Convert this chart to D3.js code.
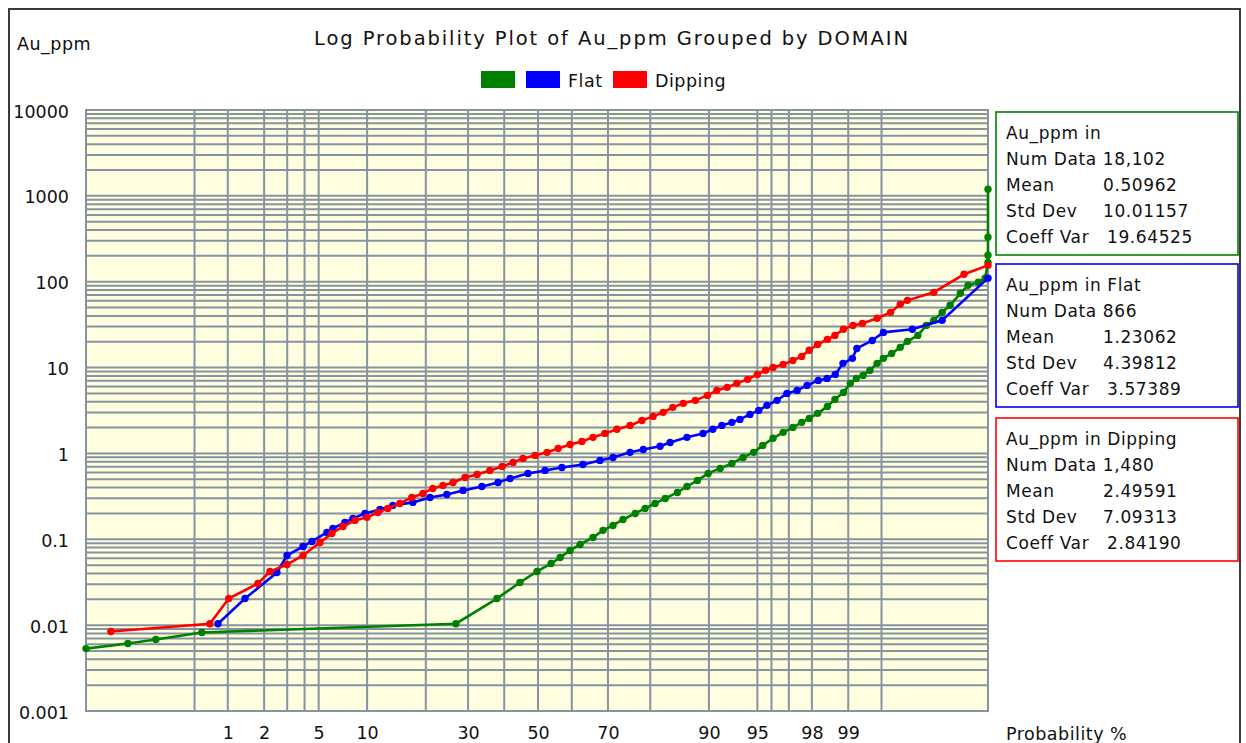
<!DOCTYPE html>
<html>
<head>
<meta charset="utf-8">
<script src="https://cdn.jsdelivr.net/npm/d3@7"></script>
<style>
  body { margin: 0; background: #fff; }
  svg text { font-family: 'DejaVu Sans', sans-serif; fill: #111; }
</style>
</head>
<body>
<svg></svg>
<script>
const CHART_SIZE = { width: 1246, height: 743 };
const PLOT = { left: 86, right: 988, top: 110, bottom: 711 };

const probTicks = [1, 2, 5, 10, 30, 50, 70, 90, 95, 98, 99];
const probGrid = [0.5, 1, 2, 3, 4, 5, 10, 20, 30, 40, 50, 60, 70, 80, 90, 95, 96, 97, 98, 99, 99.5];
const probRange = [0.035, 99.963];
const valueTicks = [0.001, 0.01, 0.1, 1, 10, 100, 1000, 10000];
const valueLabels = ['0.001', '0.01', '0.1', '1', '10', '100', '1000', '10000'];

const seriesNames = ['', 'Flat', 'Dipping'];
const seriesColors = ['#008000', '#0000ff', '#ff0000'];

const allProb = [0.035, 0.105, 0.208, 0.585, 26.9, 37.9, 44.6, 49.7, 53.9, 56.6,
  59.5, 62.4, 66.0, 68.7, 71.3, 73.8, 76.7, 78.9, 81.0, 83.0,
  85.2, 86.8, 88.4, 89.9, 91.4, 92.7, 93.8, 94.7, 95.4, 96.1,
  96.7, 97.2, 97.6, 97.9, 98.2, 98.5, 98.7, 98.9, 99.04, 99.15,
  99.26, 99.36, 99.45, 99.52, 99.60, 99.67, 99.72, 99.78, 99.82, 99.85,
  99.878, 99.90, 99.923, 99.937, 99.952, 99.960, 99.963, 99.963, 99.963, 99.963];
const allValue = [0.00533, 0.0061, 0.0068, 0.0082, 0.0104, 0.0204, 0.0314, 0.0422, 0.0522, 0.0614,
  0.0741, 0.087, 0.105, 0.127, 0.145, 0.170, 0.200, 0.229, 0.261, 0.299,
  0.351, 0.412, 0.485, 0.585, 0.669, 0.765, 0.898, 1.03, 1.24, 1.50,
  1.76, 2.01, 2.30, 2.56, 2.93, 3.53, 4.26, 5.14, 6.55, 7.48,
  8.11, 9.28, 11.2, 12.8, 14.6, 17.2, 20.2, 23.7, 31.0, 35.5,
  44.0, 53.1, 73.3, 90.8, 98.4, 110, 168, 203, 329, 1194];

const flatProb = [0.82, 1.40, 2.51, 2.99, 3.90, 4.50, 5.67, 6.20, 7.38, 8.26,
  9.72, 11.8, 13.8, 17.4, 20.9, 24.7, 28.7, 33.7, 38.2, 41.7,
  47.0, 52.1, 57.1, 63.2, 67.9, 71.3, 75.5, 78.5, 82.0, 83.9,
  86.8, 89.2, 90.5, 91.6, 92.7, 93.5, 94.4, 95.1, 95.7, 96.35,
  96.9, 97.4, 97.82, 98.22, 98.49, 98.71, 98.89, 99.08, 99.16, 99.39,
  99.52, 99.75, 99.878, 99.963];
const flatValue = [0.0104, 0.0204, 0.041, 0.0648, 0.0824, 0.0943, 0.12, 0.134, 0.157, 0.175,
  0.200, 0.223, 0.248, 0.269, 0.307, 0.333, 0.371, 0.412, 0.459, 0.511,
  0.585, 0.634, 0.687, 0.744, 0.829, 0.898, 1.03, 1.11, 1.21, 1.34,
  1.54, 1.71, 1.91, 2.12, 2.30, 2.49, 2.85, 3.17, 3.63, 4.15,
  5.0, 5.42, 6.2, 7.09, 7.48, 8.33, 11.2, 12.8, 16.7, 20.7,
  25.7, 27.9, 35.5, 110];

const dipProb = [0.068, 0.693, 1.02, 1.78, 2.22, 2.99, 3.90, 5.10, 6.11, 7.18,
  8.49, 9.98, 11.5, 13.0, 15.0, 17.2, 19.4, 21.5, 23.8, 26.2,
  29.2, 32.4, 35.9, 39.4, 42.6, 45.5, 49.1, 52.7, 56.0, 59.5,
  62.9, 66.0, 69.2, 72.3, 75.5, 78.2, 80.6, 82.6, 84.4, 86.2,
  88.1, 89.8, 91.0, 92.2, 93.2, 94.2, 95.0, 95.6, 96.1, 96.7,
  97.2, 97.6, 97.9, 98.2, 98.5, 98.7, 98.9, 99.09, 99.25, 99.45,
  99.59, 99.67, 99.72, 99.85, 99.93, 99.963];
const dipValue = [0.00842, 0.0104, 0.0204, 0.0305, 0.0421, 0.0508, 0.0648, 0.0918, 0.117, 0.141,
  0.166, 0.180, 0.205, 0.229, 0.261, 0.307, 0.342, 0.391, 0.424, 0.459,
  0.525, 0.569, 0.634, 0.706, 0.786, 0.875, 0.948, 1.03, 1.14, 1.27,
  1.38, 1.54, 1.71, 1.91, 2.12, 2.42, 2.70, 3.01, 3.44, 3.83,
  4.15, 4.74, 5.42, 5.88, 6.55, 7.29, 8.33, 9.28, 10.05, 10.9,
  12.1, 13.5, 15.9, 18.6, 21.3, 23.7, 27.9, 31.0, 32.7, 37.5,
  44.0, 54.5, 60.7, 75.2, 122, 155];

const statTitles = ['Au_ppm in', 'Au_ppm in Flat', 'Au_ppm in Dipping'];
const statNumData = ['18,102', '866', '1,480'];
const statMean = ['0.50962', '1.23062', '2.49591'];
const statStdDev = ['10.01157', '4.39812', '7.09313'];
const statCoeffVar = ['19.64525', '3.57389', '2.84190'];

// inverse normal cdf (Acklam)
const probit = function(p) {
  const a = [-39.69683028665376, 220.9460984245205, -275.9285104469687, 138.3577518672690, -30.66479806614716, 2.506628277459239];
  const b = [-54.47609879822406, 161.5858368580409, -155.6989798598866, 66.80131188771972, -13.28068155288572];
  const c = [-0.007784894002430293, -0.3223964580411365, -2.400758277161838, -2.549732539343734, 4.374664141464968, 2.938163982698783];
  const d = [0.007784695709041462, 0.3224671290700398, 2.445134137142996, 3.754408661907416];
  const tail = q => (((((c[0] * q + c[1]) * q + c[2]) * q + c[3]) * q + c[4]) * q + c[5]) /
    ((((d[0] * q + d[1]) * q + d[2]) * q + d[3]) * q + 1);
  if (p < 0.02425) return tail(Math.sqrt(-2 * Math.log(p)));
  if (p > 1 - 0.02425) return -tail(Math.sqrt(-2 * Math.log(1 - p)));
  const q = p - 0.5, r = q * q;
  return (((((a[0] * r + a[1]) * r + a[2]) * r + a[3]) * r + a[4]) * r + a[5]) * q /
    (((((b[0] * r + b[1]) * r + b[2]) * r + b[3]) * r + b[4]) * r + 1);
};

const z = d3.scaleLinear()
  .domain(probRange.map(p => probit(p / 100)))
  .range([PLOT.left, PLOT.right]);
const x = p => z(probit(p / 100));
const y = d3.scaleLog().domain([0.001, 10000]).range([PLOT.bottom, PLOT.top]);

const svg = d3.select('svg')
  .attr('width', CHART_SIZE.width)
  .attr('height', CHART_SIZE.height);

svg.append('rect')
  .attr('x', 9).attr('y', 9)
  .attr('width', 1231).attr('height', 800)
  .attr('fill', '#fff')
  .attr('stroke', '#3a3a3a')
  .attr('stroke-width', 2);

svg.append('text')
  .attr('x', 612).attr('y', 45)
  .attr('text-anchor', 'middle')
  .style('font-size', '19.5px')
  .style('letter-spacing', '1.9px')
  .text('Log Probability Plot of Au_ppm Grouped by DOMAIN');

svg.append('text')
  .attr('x', 17).attr('y', 50)
  .style('font-size', '17.5px')
  .style('letter-spacing', '0.5px')
  .text('Au_ppm');

// legend
const legendX = [481, 526, 613];
const legend = svg.append('g').attr('class', 'legend');
seriesNames.forEach((name, i) => {
  legend.append('rect')
    .attr('x', legendX[i]).attr('y', 71)
    .attr('width', 34).attr('height', 17)
    .attr('fill', seriesColors[i]);
  if (name)
    legend.append('text')
      .attr('x', legendX[i] + 42).attr('y', 87)
      .style('font-size', '17.5px')
      .style('letter-spacing', '0.5px')
      .text(name);
});

// plot area and grid
svg.append('rect')
  .attr('x', PLOT.left).attr('y', PLOT.top)
  .attr('width', PLOT.right - PLOT.left)
  .attr('height', PLOT.bottom - PLOT.top)
  .attr('fill', '#ffffe0');

const grid = svg.append('g')
  .attr('stroke', '#8693a0')
  .attr('stroke-width', 2);

grid.selectAll('.hgrid')
  .data(y.ticks())
  .join('line')
  .attr('x1', PLOT.left).attr('x2', PLOT.right)
  .attr('y1', d => y(d)).attr('y2', d => y(d));

grid.selectAll('.vgrid')
  .data(probGrid)
  .join('line')
  .attr('x1', d => x(d)).attr('x2', d => x(d))
  .attr('y1', PLOT.top).attr('y2', PLOT.bottom);

svg.append('rect')
  .attr('x', PLOT.left).attr('y', PLOT.top)
  .attr('width', PLOT.right - PLOT.left)
  .attr('height', PLOT.bottom - PLOT.top)
  .attr('fill', 'none')
  .attr('stroke', '#8693a0')
  .attr('stroke-width', 2);

// axes
const yAxis = d3.axisLeft(y)
  .tickValues(valueTicks)
  .tickFormat((d, i) => valueLabels[i])
  .tickSize(0)
  .tickPadding(17);

svg.append('g')
  .attr('class', 'y axis')
  .attr('transform', `translate(${PLOT.left},0)`)
  .call(yAxis)
  .call(g => g.select('.domain').remove())
  .selectAll('text')
  .attr('dy', '0.4em')
  .style('font-size', '17.5px')
  .style('font-family', "'DejaVu Sans', sans-serif");

const xAxis = d3.axisBottom(z)
  .tickValues(probTicks.map(p => probit(p / 100)))
  .tickFormat((d, i) => probTicks[i])
  .tickSize(0)
  .tickPadding(16);

svg.append('g')
  .attr('class', 'x axis')
  .attr('transform', `translate(0,${PLOT.bottom})`)
  .call(xAxis)
  .call(g => g.select('.domain').remove())
  .selectAll('text')
  .style('font-size', '17.5px')
  .style('font-family', "'DejaVu Sans', sans-serif");

svg.append('text')
  .attr('x', 1006).attr('y', 740)
  .style('font-size', '17.5px')
  .style('letter-spacing', '0.5px')
  .text('Probability %');

// series
const series = [
  d3.zip(allProb, allValue),
  d3.zip(flatProb, flatValue),
  d3.zip(dipProb, dipValue)
];

const line = d3.line()
  .x(d => x(d[0]))
  .y(d => y(d[1]));

series.forEach((data, i) => {
  const g = svg.append('g').attr('class', 'series');
  g.append('path')
    .attr('d', line(data))
    .attr('fill', 'none')
    .attr('stroke', seriesColors[i])
    .attr('stroke-width', 2.6);
  g.selectAll('circle')
    .data(data)
    .join('circle')
    .attr('cx', d => x(d[0]))
    .attr('cy', d => y(d[1]))
    .attr('r', 3.7)
    .attr('fill', seriesColors[i]);
});

// stats boxes
const boxTop = [112, 264, 418];
statTitles.forEach((title, i) => {
  const g = svg.append('g').attr('transform', `translate(996,${boxTop[i]})`);
  g.append('rect')
    .attr('width', 242).attr('height', 143)
    .attr('fill', '#fff')
    .attr('stroke', seriesColors[i])
    .attr('stroke-width', 1.6);
  const rows = [
    [title, ''],
    ['Num Data ' + statNumData[i], ''],
    ['Mean', statMean[i]],
    ['Std Dev', statStdDev[i]],
    ['Coeff Var', statCoeffVar[i]]
  ];
  rows.forEach((row, j) => {
    g.append('text')
      .attr('x', 10).attr('y', 27 + j * 26)
      .style('font-size', '17px')
      .style('letter-spacing', '0.6px')
      .text(row[0]);
    if (row[1])
      g.append('text')
        .attr('x', j === 4 ? 111 : 107).attr('y', 27 + j * 26)
        .style('font-size', '17px')
        .style('letter-spacing', '0.6px')
        .text(row[1]);
  });
});
</script>
</body>
</html>
